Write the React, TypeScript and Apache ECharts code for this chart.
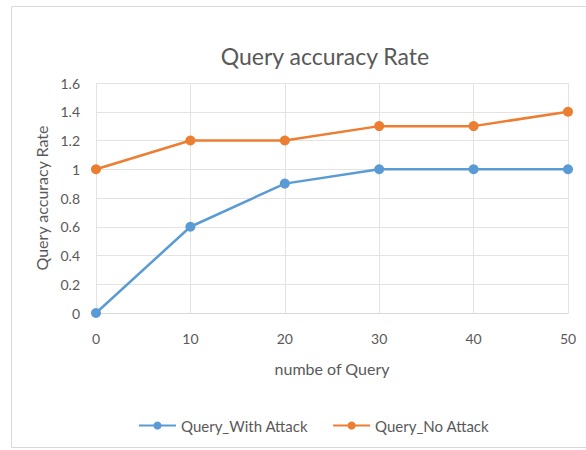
import React, { useEffect, useRef } from "react";
import * as echarts from "echarts";

const xValues = [0, 10, 20, 30, 40, 50];
const withAttack = [0, 0.6, 0.9, 1, 1, 1];
const noAttack = [1, 1.2, 1.2, 1.3, 1.3, 1.4];
const seriesNames = ["Query_With Attack", "Query_No Attack"];

const FONT = "Lato, 'Open Sans', sans-serif";
const TXT = "#595959";

export default function App() {
  const ref = useRef<HTMLDivElement>(null);
  useEffect(() => {
    if (!ref.current) return;
    const chart = echarts.init(ref.current, undefined, { renderer: "svg" });
    chart.setOption({
      animation: false,
      backgroundColor: "#ffffff",
      title: {
        text: "Query accuracy Rate",
        left: 320,
        textAlign: "center",
        top: 39,
        textStyle: { fontFamily: FONT, fontSize: 23, fontWeight: "normal", color: TXT },
      },
      graphic: [
        {
          type: "rect",
          shape: { x: 11.5, y: 6.5, width: 590, height: 441 },
          style: { fill: "none", stroke: "#d9d9d9", lineWidth: 1 },
          silent: true,
        },
      ],
      grid: { left: 96, right: 18, top: 83, bottom: 137 },
      legend: {
        top: 413,
        left: 133,
        itemWidth: 37,
        itemHeight: 10,
        itemGap: 24,
        textStyle: { fontFamily: FONT, fontSize: 15, color: TXT },
        data: seriesNames,
      },
      xAxis: {
        type: "value",
        min: 0,
        max: 50,
        interval: 10,
        name: "numbe of Query",
        nameLocation: "middle",
        nameGap: 47,
        nameTextStyle: { fontFamily: FONT, fontSize: 16, color: TXT },
        axisLine: { show: true, lineStyle: { color: "#d9d9d9" } },
        axisTick: { show: false },
        axisLabel: { fontFamily: FONT, fontSize: 14, color: TXT, margin: 18 },
        splitLine: { show: true, lineStyle: { color: "#e3e3e3" } },
      },
      yAxis: {
        type: "value",
        min: 0,
        max: 1.6,
        interval: 0.2,
        name: "Query accuracy Rate",
        nameLocation: "middle",
        nameGap: 33,
        nameTextStyle: { fontFamily: FONT, fontSize: 16, color: TXT },
        axisLine: { show: false },
        axisTick: { show: false },
        axisLabel: { fontFamily: FONT, fontSize: 14, color: TXT, margin: 16 },
        splitLine: { show: true, lineStyle: { color: "#e3e3e3" } },
      },
      series: [
        {
          name: seriesNames[0],
          type: "line",
          data: xValues.map((x, i) => [x, withAttack[i]]),
          symbol: "circle",
          symbolSize: 10,
          color: "#5b9bd5",
          lineStyle: { width: 2.5 },
        },
        {
          name: seriesNames[1],
          type: "line",
          data: xValues.map((x, i) => [x, noAttack[i]]),
          symbol: "circle",
          symbolSize: 10,
          color: "#ed7d31",
          lineStyle: { width: 2.5 },
        },
      ],
    });
    return () => chart.dispose();
  }, []);
  return (
    <div
      ref={ref}
      style={{ position: "absolute", left: 0, top: 0, width: 586, height: 450 }}
    />
  );
}
